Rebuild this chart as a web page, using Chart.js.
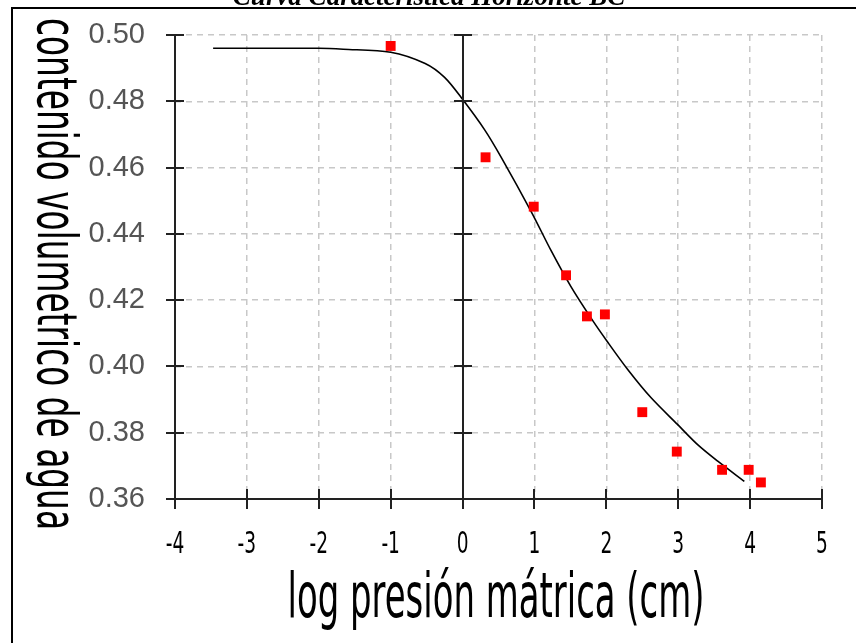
<!DOCTYPE html>
<html>
<head>
<meta charset="utf-8">
<script src="https://cdn.jsdelivr.net/npm/chart.js@4.4.0/dist/chart.umd.min.js"></script>
<style>
  html, body { margin: 0; padding: 0; background: #fff; }
  #wrap { width: 856px; height: 643px; }
</style>
</head>
<body>
<div id="wrap"><canvas id="c" width="856" height="643"></canvas></div>
<script>
const chartTitle = 'Curva Característica Horizonte BC';
const xTitle = 'log presión mátrica (cm)';
const yTitle = 'contenido volumetrico de agua';

// measured points (log cm, theta)
const obsX = [-1, 0.32, 0.99, 1.44, 1.73, 1.98, 2.50, 2.98, 3.61, 3.98, 4.15];
const obsY = [0.4967, 0.4631, 0.4482, 0.4275, 0.4151, 0.4157, 0.3862, 0.3743, 0.3688, 0.3688, 0.3650];

// fitted curve
const fitX = [-3.47, -2.5, -2, -1.66, -1, -0.52, -0.25, 0, 0.31, 0.54, 0.96, 1.23, 1.51, 1.79, 2.02, 2.30, 2.62, 2.99, 3.27, 3.55, 3.92];
const fitY = [0.4960, 0.4960, 0.4960, 0.4957, 0.4948, 0.4914, 0.4872, 0.4806, 0.4713, 0.4630, 0.4465, 0.4350, 0.4240, 0.4145, 0.4073, 0.3990, 0.3906, 0.3825, 0.3764, 0.3714, 0.3653];

const xMin = -4, xMax = 5, xStep = 1;
const yMin = 0.36, yMax = 0.50, yStep = 0.02;

const pts = (xs, ys) => xs.map((x, i) => ({ x: x, y: ys[i] }));

// draw text squeezed horizontally to a given width
function squeezed(ctx, text, font, w) {
  ctx.font = font;
  const k = w / ctx.measureText(text).width;
  ctx.scale(k, 1);
  ctx.fillText(text, 0, 0);
}

const decor = {
  id: 'decor',
  beforeDraw(chart) {
    const ctx = chart.ctx;
    ctx.save();
    ctx.fillStyle = '#fff';
    ctx.fillRect(0, 0, chart.width, chart.height);
    ctx.strokeStyle = '#000';
    ctx.lineWidth = 2;
    ctx.beginPath();
    ctx.moveTo(12, chart.height + 5);
    ctx.lineTo(12, 8);
    ctx.lineTo(chart.width + 5, 8);
    ctx.stroke();
    ctx.fillStyle = '#000';
    ctx.font = "italic bold 27px 'Liberation Serif', 'Times New Roman', serif";
    ctx.textAlign = 'center';
    ctx.fillText(chartTitle, 429, 5);
    ctx.restore();
  },
  afterDatasetsDraw(chart) {
    const ctx = chart.ctx;
    const xs = chart.scales.x, ys = chart.scales.y;
    const a = chart.chartArea;
    ctx.save();
    ctx.strokeStyle = '#222';
    ctx.lineWidth = 2;
    // vertical axes at x = -4 and x = 0
    [xMin, 0].forEach(v => {
      const px = Math.round(xs.getPixelForValue(v));
      ctx.beginPath();
      ctx.moveTo(px, a.top);
      ctx.lineTo(px, a.bottom);
      ctx.stroke();
      ys.ticks.forEach(t => {
        const py = Math.round(ys.getPixelForValue(t.value));
        ctx.beginPath();
        ctx.moveTo(px - 9, py);
        ctx.lineTo(px + 9, py);
        ctx.stroke();
      });
    });
    // horizontal axis at the bottom
    const by = Math.round(ys.getPixelForValue(yMin));
    ctx.beginPath();
    ctx.moveTo(a.left, by);
    ctx.lineTo(a.right, by);
    ctx.stroke();
    xs.ticks.forEach(t => {
      const px = Math.round(xs.getPixelForValue(t.value));
      ctx.beginPath();
      ctx.moveTo(px, by - 10);
      ctx.lineTo(px, by + 10);
      ctx.stroke();
    });
    ctx.restore();
  },
  afterDraw(chart) {
    const ctx = chart.ctx;
    const xs = chart.scales.x;
    ctx.save();
    ctx.fillStyle = '#000';
    // x tick labels, narrow
    ctx.textAlign = 'center';
    ctx.textBaseline = 'alphabetic';
    xs.ticks.forEach(t => {
      const px = xs.getPixelForValue(t.value);
      ctx.save();
      ctx.translate(px, 553);
      ctx.font = "30px 'DejaVu Sans'";
      ctx.scale(0.62, 1);
      ctx.fillText(String(t.value), 0, 0);
      ctx.restore();
    });
    // x title
    ctx.save();
    ctx.translate(496, 617);
    squeezed(ctx, xTitle, "62px 'DejaVu Sans'", 417);
    ctx.restore();
    // y title, reading downwards
    ctx.save();
    ctx.translate(38, 274);
    ctx.rotate(Math.PI / 2);
    squeezed(ctx, yTitle, "55px 'DejaVu Sans'", 512);
    ctx.restore();
    ctx.restore();
  }
};

new Chart(document.getElementById('c'), {
  type: 'scatter',
  data: {
    datasets: [
      {
        type: 'line',
        data: pts(fitX, fitY),
        borderColor: '#000',
        borderWidth: 1.6,
        pointRadius: 0,
        fill: false,
        tension: 0.3,
        order: 2
      },
      {
        data: pts(obsX, obsY),
        backgroundColor: '#ff0000',
        borderWidth: 0,
        pointStyle: 'rect',
        pointRadius: 7,
        order: 1
      }
    ]
  },
  options: {
    responsive: false,
    animation: false,
    layout: { padding: { left: 60, right: 34, top: 35, bottom: 0 } },
    plugins: { legend: { display: false }, tooltip: { enabled: false } },
    scales: {
      x: {
        type: 'linear', min: xMin, max: xMax,
        ticks: { stepSize: xStep, display: false },
        grid: { color: '#c8c8c8', lineWidth: 1.5, drawTicks: false },
        border: { display: false, dash: [6, 5] },
        afterFit(s) { s.height = 144; s.paddingLeft = 0; s.paddingRight = 0; }
      },
      y: {
        type: 'linear', min: yMin, max: yMax,
        ticks: { stepSize: yStep, color: '#555', font: { family: "'Liberation Sans', Arial, sans-serif", size: 29 }, padding: 30,
                 callback: v => v.toFixed(2) },
        grid: { color: '#c8c8c8', lineWidth: 1.5, drawTicks: false },
        border: { display: false, dash: [6, 5] },
        afterFit(s) { s.width = 115; s.paddingTop = 0; s.paddingBottom = 0; }
      }
    }
  },
  plugins: [decor]
});
</script>
</body>
</html>
